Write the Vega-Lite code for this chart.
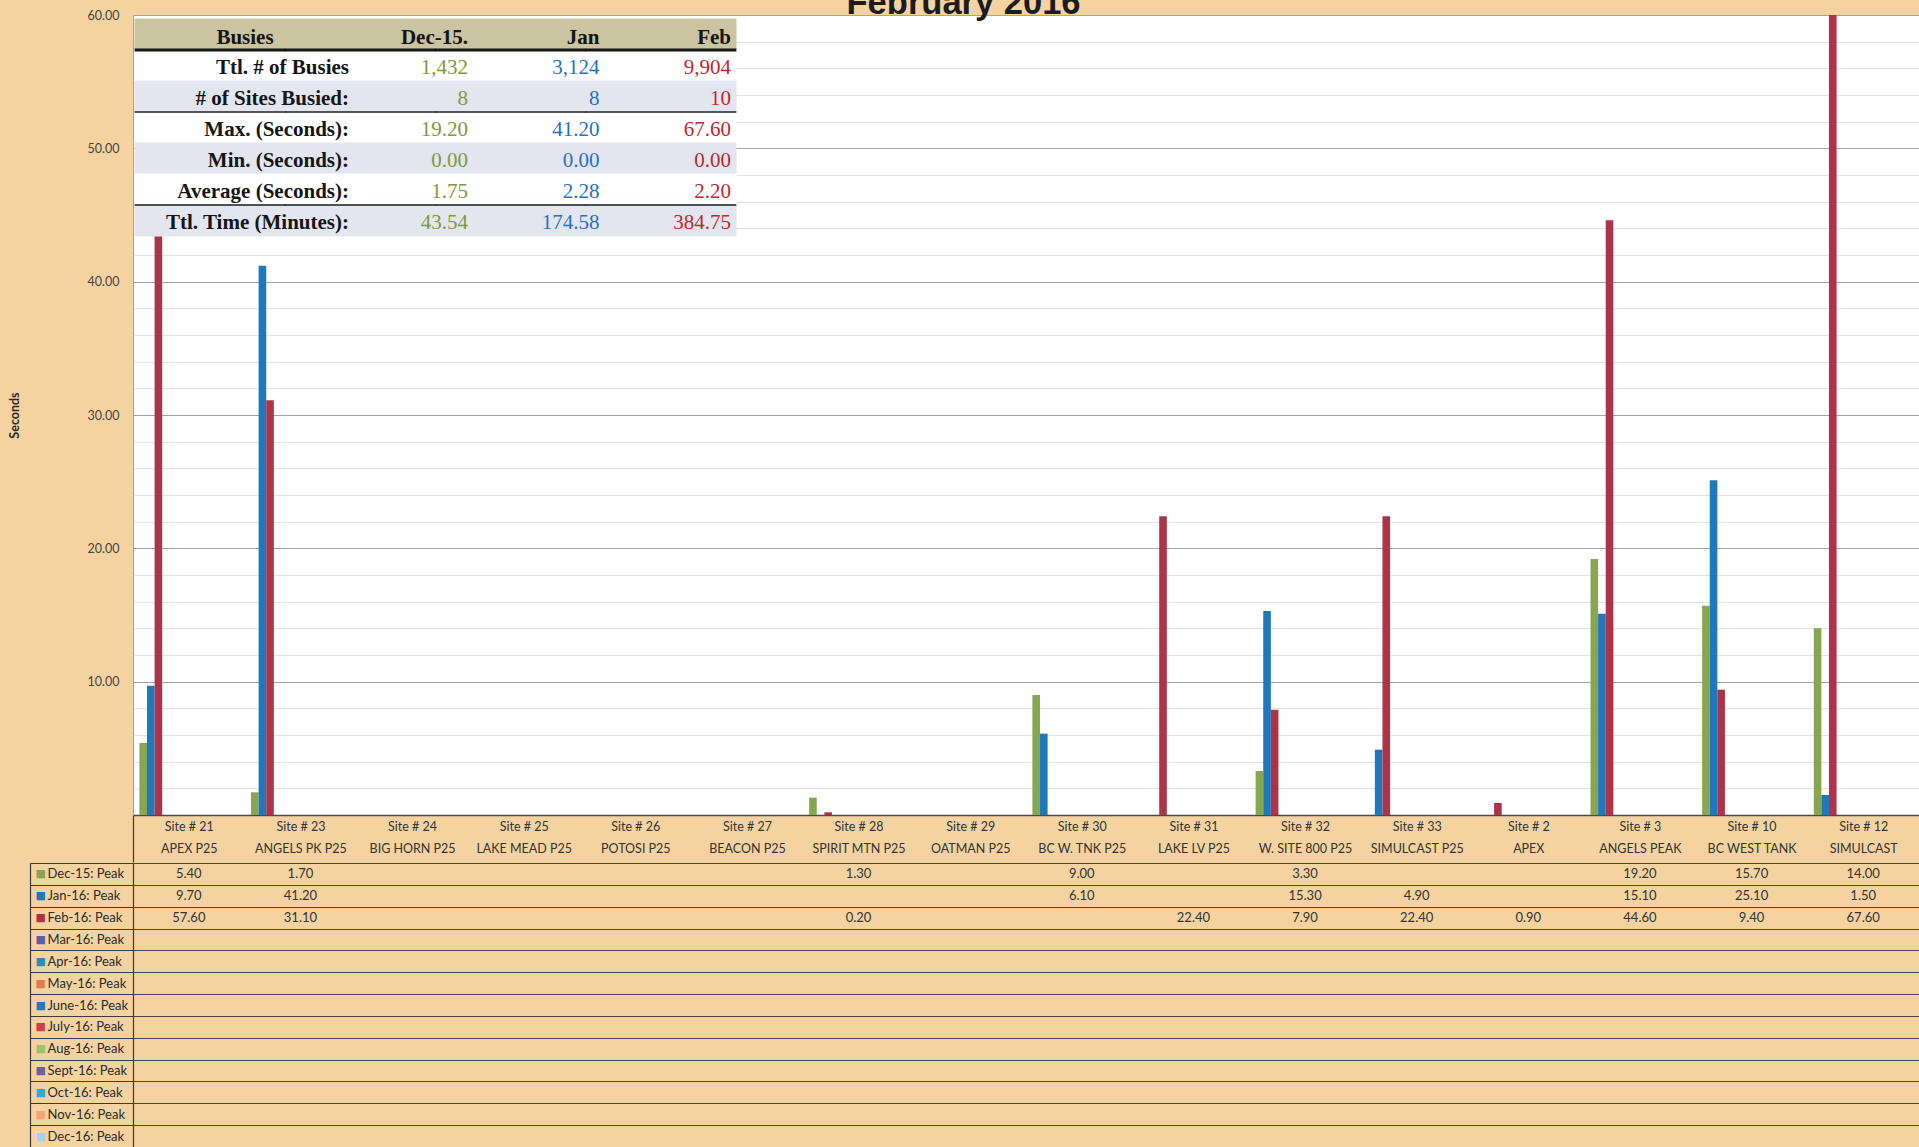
{
  "$schema": "https://vega.github.io/schema/vega-lite/v6.json",
  "background": "#f4d3a0",
  "padding": {"left": 8, "top": -15, "right": 0, "bottom": 0},
  "title": {"text": "February 2016", "font": "Liberation Sans", "fontSize": 34.5, "fontWeight": "bold", "color": "#1c1c1c", "anchor": "middle", "baseline": "alphabetic", "offset": -39},
  "config": {"view": {"stroke": null}, "font": "Lato"},
  "spacing": -6,
  "datasets": {
    "peaks": [
      {"site": "Site # 21|APEX P25", "series": "Dec-15: Peak", "value": 5.4, "label": "5.40"},
      {"site": "Site # 21|APEX P25", "series": "Jan-16: Peak", "value": 9.7, "label": "9.70"},
      {"site": "Site # 21|APEX P25", "series": "Feb-16: Peak", "value": 43.5, "label": "57.60"},
      {"site": "Site # 23|ANGELS PK P25", "series": "Dec-15: Peak", "value": 1.7, "label": "1.70"},
      {"site": "Site # 23|ANGELS PK P25", "series": "Jan-16: Peak", "value": 41.2, "label": "41.20"},
      {"site": "Site # 23|ANGELS PK P25", "series": "Feb-16: Peak", "value": 31.1, "label": "31.10"},
      {"site": "Site # 28|SPIRIT MTN P25", "series": "Dec-15: Peak", "value": 1.3, "label": "1.30"},
      {"site": "Site # 28|SPIRIT MTN P25", "series": "Feb-16: Peak", "value": 0.2, "label": "0.20"},
      {"site": "Site # 30|BC W. TNK P25", "series": "Dec-15: Peak", "value": 9.0, "label": "9.00"},
      {"site": "Site # 30|BC W. TNK P25", "series": "Jan-16: Peak", "value": 6.1, "label": "6.10"},
      {"site": "Site # 31|LAKE LV P25", "series": "Feb-16: Peak", "value": 22.4, "label": "22.40"},
      {"site": "Site # 32|W. SITE 800 P25", "series": "Dec-15: Peak", "value": 3.3, "label": "3.30"},
      {"site": "Site # 32|W. SITE 800 P25", "series": "Jan-16: Peak", "value": 15.3, "label": "15.30"},
      {"site": "Site # 32|W. SITE 800 P25", "series": "Feb-16: Peak", "value": 7.9, "label": "7.90"},
      {"site": "Site # 33|SIMULCAST P25", "series": "Jan-16: Peak", "value": 4.9, "label": "4.90"},
      {"site": "Site # 33|SIMULCAST P25", "series": "Feb-16: Peak", "value": 22.4, "label": "22.40"},
      {"site": "Site # 2|APEX", "series": "Feb-16: Peak", "value": 0.9, "label": "0.90"},
      {"site": "Site # 3|ANGELS PEAK", "series": "Dec-15: Peak", "value": 19.2, "label": "19.20"},
      {"site": "Site # 3|ANGELS PEAK", "series": "Jan-16: Peak", "value": 15.1, "label": "15.10"},
      {"site": "Site # 3|ANGELS PEAK", "series": "Feb-16: Peak", "value": 44.6, "label": "44.60"},
      {"site": "Site # 10|BC WEST TANK", "series": "Dec-15: Peak", "value": 15.7, "label": "15.70"},
      {"site": "Site # 10|BC WEST TANK", "series": "Jan-16: Peak", "value": 25.1, "label": "25.10"},
      {"site": "Site # 10|BC WEST TANK", "series": "Feb-16: Peak", "value": 9.4, "label": "9.40"},
      {"site": "Site # 12|SIMULCAST", "series": "Dec-15: Peak", "value": 14.0, "label": "14.00"},
      {"site": "Site # 12|SIMULCAST", "series": "Jan-16: Peak", "value": 1.5, "label": "1.50"},
      {"site": "Site # 12|SIMULCAST", "series": "Feb-16: Peak", "value": 67.6, "label": "67.60"}
    ],
    "stats": [
      {"row": "hdr", "col": "label", "text": "Busies"},
      {"row": "hdr", "col": "dec", "text": "Dec-15."},
      {"row": "hdr", "col": "jan", "text": "Jan"},
      {"row": "hdr", "col": "feb", "text": "Feb"},
      {"row": "r1", "col": "label", "text": "Ttl. # of Busies"},
      {"row": "r1", "col": "dec", "text": "1,432"},
      {"row": "r1", "col": "jan", "text": "3,124"},
      {"row": "r1", "col": "feb", "text": "9,904"},
      {"row": "r2", "col": "label", "text": "# of Sites Busied:"},
      {"row": "r2", "col": "dec", "text": "8"},
      {"row": "r2", "col": "jan", "text": "8"},
      {"row": "r2", "col": "feb", "text": "10"},
      {"row": "r3", "col": "label", "text": "Max. (Seconds):"},
      {"row": "r3", "col": "dec", "text": "19.20"},
      {"row": "r3", "col": "jan", "text": "41.20"},
      {"row": "r3", "col": "feb", "text": "67.60"},
      {"row": "r4", "col": "label", "text": "Min. (Seconds):"},
      {"row": "r4", "col": "dec", "text": "0.00"},
      {"row": "r4", "col": "jan", "text": "0.00"},
      {"row": "r4", "col": "feb", "text": "0.00"},
      {"row": "r5", "col": "label", "text": "Average (Seconds):"},
      {"row": "r5", "col": "dec", "text": "1.75"},
      {"row": "r5", "col": "jan", "text": "2.28"},
      {"row": "r5", "col": "feb", "text": "2.20"},
      {"row": "r6", "col": "label", "text": "Ttl. Time (Minutes):"},
      {"row": "r6", "col": "dec", "text": "43.54"},
      {"row": "r6", "col": "jan", "text": "174.58"},
      {"row": "r6", "col": "feb", "text": "384.75"}
    ]
  },
  "vconcat": [
    {
      "width": 1786,
      "height": 800,
      "view": {"fill": "white", "stroke": null},
      "resolve": {
        "scale": {"x": "independent", "y": "independent", "color": "independent", "fill": "independent", "stroke": "independent"},
        "axis": {"x": "independent", "y": "independent"}
      },
      "layer": [
        {
          "data": {"name": "peaks"},
          "mark": {"type": "bar", "clip": true},
          "encoding": {
            "x": {
              "field": "site", "type": "nominal", "sort": null,
              "scale": {"domain": ["Site # 21|APEX P25", "Site # 23|ANGELS PK P25", "Site # 24|BIG HORN P25", "Site # 25|LAKE MEAD P25", "Site # 26|POTOSI P25", "Site # 27|BEACON P25", "Site # 28|SPIRIT MTN P25", "Site # 29|OATMAN P25", "Site # 30|BC W. TNK P25", "Site # 31|LAKE LV P25", "Site # 32|W. SITE 800 P25", "Site # 33|SIMULCAST P25", "Site # 2|APEX", "Site # 3|ANGELS PEAK", "Site # 10|BC WEST TANK", "Site # 12|SIMULCAST"], "paddingInner": 0, "paddingOuter": 0},
              "axis": {
                "orient": "bottom", "title": null,
                "labelExpr": "split(datum.label, '|')",
                "labelAngle": 0, "labelFont": "Lato", "labelFontSize": 12.5, "labelColor": "#333333",
                "labelLineHeight": 22, "labelPadding": -42, "labelLimit": 0, "labelOverlap": false, "labelBaseline": "top",
                "ticks": true, "tickBand": "extent", "tickSize": 47, "tickColor": "#3a3a3a", "tickWidth": 1.2,
                "tickOpacity": {"condition": {"test": "datum.extra", "value": 1}, "value": 0},
                "domain": true, "domainColor": "#4a4a4a", "domainWidth": 1.3, "grid": false
              }
            },
            "xOffset": {
              "field": "series", "type": "nominal",
              "scale": {"domain": ["Dec-15: Peak", "Jan-16: Peak", "Feb-16: Peak", "Mar-16: Peak", "Apr-16: Peak", "May-16: Peak", "June-16: Peak", "July-16: Peak", "Aug-16: Peak", "Sept-16: Peak", "Oct-16: Peak", "Nov-16: Peak", "Dec-16: Peak"], "paddingInner": 0, "paddingOuter": 0.84}
            },
            "y": {
              "field": "value", "type": "quantitative",
              "scale": {"domain": [0, 60], "nice": false, "zero": true},
              "axis": {
                "title": "Seconds",
                "values": [0, 2, 4, 6, 8, 10, 12, 14, 16, 18, 20, 22, 24, 26, 28, 30, 32, 34, 36, 38, 40, 42, 44, 46, 48, 50, 52, 54, 56, 58, 60],
                "labelExpr": "datum.value % 10 === 0 && datum.value > 0 ? format(datum.value, '.2f') : ''",
                "labelOverlap": false, "labelPadding": 14, "labelFont": "Lato", "labelFontSize": 12.5, "labelColor": "#444444",
                "ticks": false, "domain": true, "domainColor": "#a0a0a0",
                "grid": true,
                "gridColor": {"condition": {"test": "datum.value % 10 === 0", "value": "#a3a3a3"}, "value": "#e3e3e3"},
                "gridWidth": 1,
                "titleFont": "Lato", "titleFontSize": 12.5, "titleFontWeight": "bold", "titleColor": "#2a2a2a", "titlePadding": 66
              }
            },
            "color": {
              "field": "series", "type": "nominal",
              "scale": {
                "domain": ["Dec-15: Peak", "Jan-16: Peak", "Feb-16: Peak", "Mar-16: Peak", "Apr-16: Peak", "May-16: Peak", "June-16: Peak", "July-16: Peak", "Aug-16: Peak", "Sept-16: Peak", "Oct-16: Peak", "Nov-16: Peak", "Dec-16: Peak"],
                "range": ["#86a64f", "#1f77bd", "#ad3448", "#5b5ea6", "#2b8fb5", "#e07b4c", "#1f78cc", "#d23a4c", "#9cc46a", "#6b5fb3", "#35a9d3", "#f7a274", "#a9d2f2"]
              },
              "legend": null
            }
          }
        },
        {
          "data": {"name": "stats"},
          "mark": {"type": "rect", "strokeWidth": 1},
          "encoding": {
            "x": {"field": "col", "type": "nominal", "scale": {"type": "band", "domain": ["label", "dec", "jan", "feb"], "range": [2, 603], "paddingInner": 0, "paddingOuter": 0}, "axis": null},
            "y": {"field": "row", "type": "nominal", "scale": {"type": "band", "domain": ["hdr", "r1", "r2", "r3", "r4", "r5", "r6"], "range": [4, 221], "paddingInner": 0, "paddingOuter": 0}, "axis": null},
            "fill": {"field": "row", "type": "nominal", "scale": {"domain": ["hdr", "r1", "r2", "r3", "r4", "r5", "r6"], "range": ["#cbc4a0", "#ffffff", "#e3e6ee", "#ffffff", "#e3e6ee", "#ffffff", "#e3e6ee"]}, "legend": null},
            "stroke": {"field": "row", "type": "nominal", "scale": {"domain": ["hdr", "r1", "r2", "r3", "r4", "r5", "r6"], "range": ["#cbc4a0", "#ffffff", "#e3e6ee", "#ffffff", "#e3e6ee", "#ffffff", "#e3e6ee"]}, "legend": null}
          }
        },
        {
          "data": {"name": "stats"},
          "transform": [{"filter": "datum.row === 'hdr'"}],
          "mark": {"type": "tick", "orient": "horizontal", "thickness": 3, "size": 151, "color": "#151515", "opacity": 1},
          "encoding": {
            "x": {"field": "col", "type": "nominal", "scale": {"type": "band", "domain": ["label", "dec", "jan", "feb"], "range": [2, 603], "paddingInner": 0, "paddingOuter": 0}, "axis": null},
            "y": {"field": "row", "type": "nominal", "bandPosition": 1, "scale": {"type": "band", "domain": ["hdr", "r1", "r2", "r3", "r4", "r5", "r6"], "range": [4, 221], "paddingInner": 0, "paddingOuter": 0}, "axis": null}
          }
        },
        {
          "data": {"name": "stats"},
          "transform": [{"filter": "datum.row === 'r2' || datum.row === 'r5'"}],
          "mark": {"type": "tick", "orient": "horizontal", "thickness": 1.6, "size": 151, "color": "#1e1e1e", "opacity": 1},
          "encoding": {
            "x": {"field": "col", "type": "nominal", "scale": {"type": "band", "domain": ["label", "dec", "jan", "feb"], "range": [2, 603], "paddingInner": 0, "paddingOuter": 0}, "axis": null},
            "y": {"field": "row", "type": "nominal", "bandPosition": 1, "scale": {"type": "band", "domain": ["hdr", "r1", "r2", "r3", "r4", "r5", "r6"], "range": [4, 221], "paddingInner": 0, "paddingOuter": 0}, "axis": null}
          }
        },
        {
          "data": {"name": "stats"},
          "transform": [{"filter": "datum.col === 'label' && datum.row !== 'hdr'"}],
          "mark": {"type": "text", "align": "right", "baseline": "middle", "font": "Liberation Serif", "fontSize": 21, "fontWeight": "bold", "color": "#151515", "dy": 2},
          "encoding": {
            "x": {"field": "col", "type": "nominal", "scale": {"type": "point", "domain": ["label", "dec", "jan", "feb"], "range": [216, 598], "padding": 0}, "axis": null},
            "y": {"field": "row", "type": "nominal", "scale": {"type": "band", "domain": ["hdr", "r1", "r2", "r3", "r4", "r5", "r6"], "range": [4, 221], "paddingInner": 0, "paddingOuter": 0}, "axis": null},
            "text": {"field": "text", "type": "nominal"}
          }
        },
        {
          "data": {"name": "stats"},
          "transform": [{"filter": "datum.col === 'label' && datum.row === 'hdr'"}],
          "mark": {"type": "text", "align": "center", "baseline": "middle", "font": "Liberation Serif", "fontSize": 21, "fontWeight": "bold", "color": "#151515", "dy": 3},
          "encoding": {
            "x": {"field": "col", "type": "nominal", "scale": {"type": "point", "domain": ["label", "dec", "jan", "feb"], "range": [112, 598], "padding": 0}, "axis": null},
            "y": {"field": "row", "type": "nominal", "scale": {"type": "band", "domain": ["hdr", "r1", "r2", "r3", "r4", "r5", "r6"], "range": [4, 221], "paddingInner": 0, "paddingOuter": 0}, "axis": null},
            "text": {"field": "text", "type": "nominal"}
          }
        },
        {
          "data": {"name": "stats"},
          "transform": [{"filter": "datum.col !== 'label' && datum.row === 'hdr'"}],
          "mark": {"type": "text", "align": "right", "baseline": "middle", "font": "Liberation Serif", "fontSize": 21, "fontWeight": "bold", "color": "#151515", "dy": 3},
          "encoding": {
            "x": {"field": "col", "type": "nominal", "scale": {"type": "point", "domain": ["dec", "jan", "feb"], "range": [335, 598], "padding": 0}, "axis": null},
            "y": {"field": "row", "type": "nominal", "scale": {"type": "band", "domain": ["hdr", "r1", "r2", "r3", "r4", "r5", "r6"], "range": [4, 221], "paddingInner": 0, "paddingOuter": 0}, "axis": null},
            "text": {"field": "text", "type": "nominal"}
          }
        },
        {
          "data": {"name": "stats"},
          "transform": [{"filter": "datum.col !== 'label' && datum.row !== 'hdr'"}],
          "mark": {"type": "text", "align": "right", "baseline": "middle", "font": "Liberation Serif", "fontSize": 21, "dy": 2},
          "encoding": {
            "x": {"field": "col", "type": "nominal", "scale": {"type": "point", "domain": ["dec", "jan", "feb"], "range": [335, 598], "padding": 0}, "axis": null},
            "y": {"field": "row", "type": "nominal", "scale": {"type": "band", "domain": ["hdr", "r1", "r2", "r3", "r4", "r5", "r6"], "range": [4, 221], "paddingInner": 0, "paddingOuter": 0}, "axis": null},
            "text": {"field": "text", "type": "nominal"},
            "color": {"field": "col", "type": "nominal", "scale": {"domain": ["dec", "jan", "feb"], "range": ["#7d9a3a", "#1f72c4", "#c4252f"]}, "legend": null}
          }
        }
      ]
    },
    {
      "width": 1786,
      "height": 284,
      "resolve": {"scale": {"y": "independent"}, "axis": {"y": "independent"}},
      "layer": [
        {
          "data": {"name": "peaks"},
          "mark": {"type": "text", "font": "Lato", "fontSize": 13, "color": "#333333", "baseline": "middle"},
          "encoding": {
            "x": {"field": "site", "type": "nominal", "sort": null, "scale": {"domain": ["Site # 21|APEX P25", "Site # 23|ANGELS PK P25", "Site # 24|BIG HORN P25", "Site # 25|LAKE MEAD P25", "Site # 26|POTOSI P25", "Site # 27|BEACON P25", "Site # 28|SPIRIT MTN P25", "Site # 29|OATMAN P25", "Site # 30|BC W. TNK P25", "Site # 31|LAKE LV P25", "Site # 32|W. SITE 800 P25", "Site # 33|SIMULCAST P25", "Site # 2|APEX", "Site # 3|ANGELS PEAK", "Site # 10|BC WEST TANK", "Site # 12|SIMULCAST"], "paddingInner": 0, "paddingOuter": 0}, "axis": null},
            "y": {
              "field": "series", "type": "nominal",
              "scale": {"domain": ["Dec-15: Peak", "Jan-16: Peak", "Feb-16: Peak", "Mar-16: Peak", "Apr-16: Peak", "May-16: Peak", "June-16: Peak", "July-16: Peak", "Aug-16: Peak", "Sept-16: Peak", "Oct-16: Peak", "Nov-16: Peak", "Dec-16: Peak"], "paddingInner": 0, "paddingOuter": 0},
              "axis": {
                "orient": "left", "title": null,
                "domain": true, "domainColor": "#3a3a3a", "domainWidth": 1.2,
                "ticks": true, "tickBand": "extent", "tickSize": 103, "tickColor": "#3a3a3a", "tickWidth": 1.2,
                "grid": true, "gridColor": "#3a3a3a", "gridWidth": 1.2, "gridOpacity": 0.9,
                "labelAlign": "left", "labelBaseline": "middle", "labelPadding": -17,
                "labelFont": "Lato", "labelFontSize": 13, "labelColor": "#2a2a2a", "labelLimit": 0, "labelOverlap": false
              }
            },
            "text": {"field": "label", "type": "nominal"}
          }
        },
        {
          "data": {"name": "peaks"},
          "mark": {"type": "point", "opacity": 0},
          "encoding": {
            "x": {"field": "site", "type": "nominal", "sort": null, "scale": {"domain": ["Site # 21|APEX P25", "Site # 23|ANGELS PK P25", "Site # 24|BIG HORN P25", "Site # 25|LAKE MEAD P25", "Site # 26|POTOSI P25", "Site # 27|BEACON P25", "Site # 28|SPIRIT MTN P25", "Site # 29|OATMAN P25", "Site # 30|BC W. TNK P25", "Site # 31|LAKE LV P25", "Site # 32|W. SITE 800 P25", "Site # 33|SIMULCAST P25", "Site # 2|APEX", "Site # 3|ANGELS PEAK", "Site # 10|BC WEST TANK", "Site # 12|SIMULCAST"], "paddingInner": 0, "paddingOuter": 0}, "axis": null},
            "y": {
              "field": "series", "type": "nominal",
              "scale": {"domain": ["Dec-15: Peak", "Jan-16: Peak", "Feb-16: Peak", "Mar-16: Peak", "Apr-16: Peak", "May-16: Peak", "June-16: Peak", "July-16: Peak", "Aug-16: Peak", "Sept-16: Peak", "Oct-16: Peak", "Nov-16: Peak", "Dec-16: Peak"], "paddingInner": 0, "paddingOuter": 0},
              "axis": {
                "orient": "left", "offset": 103, "title": null,
                "domain": true, "domainColor": "#3a3a3a", "domainWidth": 1.2,
                "ticks": false, "grid": false,
                "labelExpr": "'■'",
                "labelAlign": "left", "labelBaseline": "middle", "labelPadding": -5,
                "labelFont": "DejaVu Sans", "labelFontSize": 11, "labelOverlap": false,
                "labelColor": {
                  "condition": [
                    {"test": "datum.value === 'Dec-15: Peak'", "value": "#86a64f"},
                    {"test": "datum.value === 'Jan-16: Peak'", "value": "#1f77bd"},
                    {"test": "datum.value === 'Feb-16: Peak'", "value": "#ad3448"},
                    {"test": "datum.value === 'Mar-16: Peak'", "value": "#5b5ea6"},
                    {"test": "datum.value === 'Apr-16: Peak'", "value": "#2b8fb5"},
                    {"test": "datum.value === 'May-16: Peak'", "value": "#e07b4c"},
                    {"test": "datum.value === 'June-16: Peak'", "value": "#1f78cc"},
                    {"test": "datum.value === 'July-16: Peak'", "value": "#d23a4c"},
                    {"test": "datum.value === 'Aug-16: Peak'", "value": "#9cc46a"},
                    {"test": "datum.value === 'Sept-16: Peak'", "value": "#6b5fb3"},
                    {"test": "datum.value === 'Oct-16: Peak'", "value": "#35a9d3"},
                    {"test": "datum.value === 'Nov-16: Peak'", "value": "#f7a274"}
                  ],
                  "value": "#a9d2f2"
                }
              }
            }
          }
        }
      ]
    }
  ]
}
